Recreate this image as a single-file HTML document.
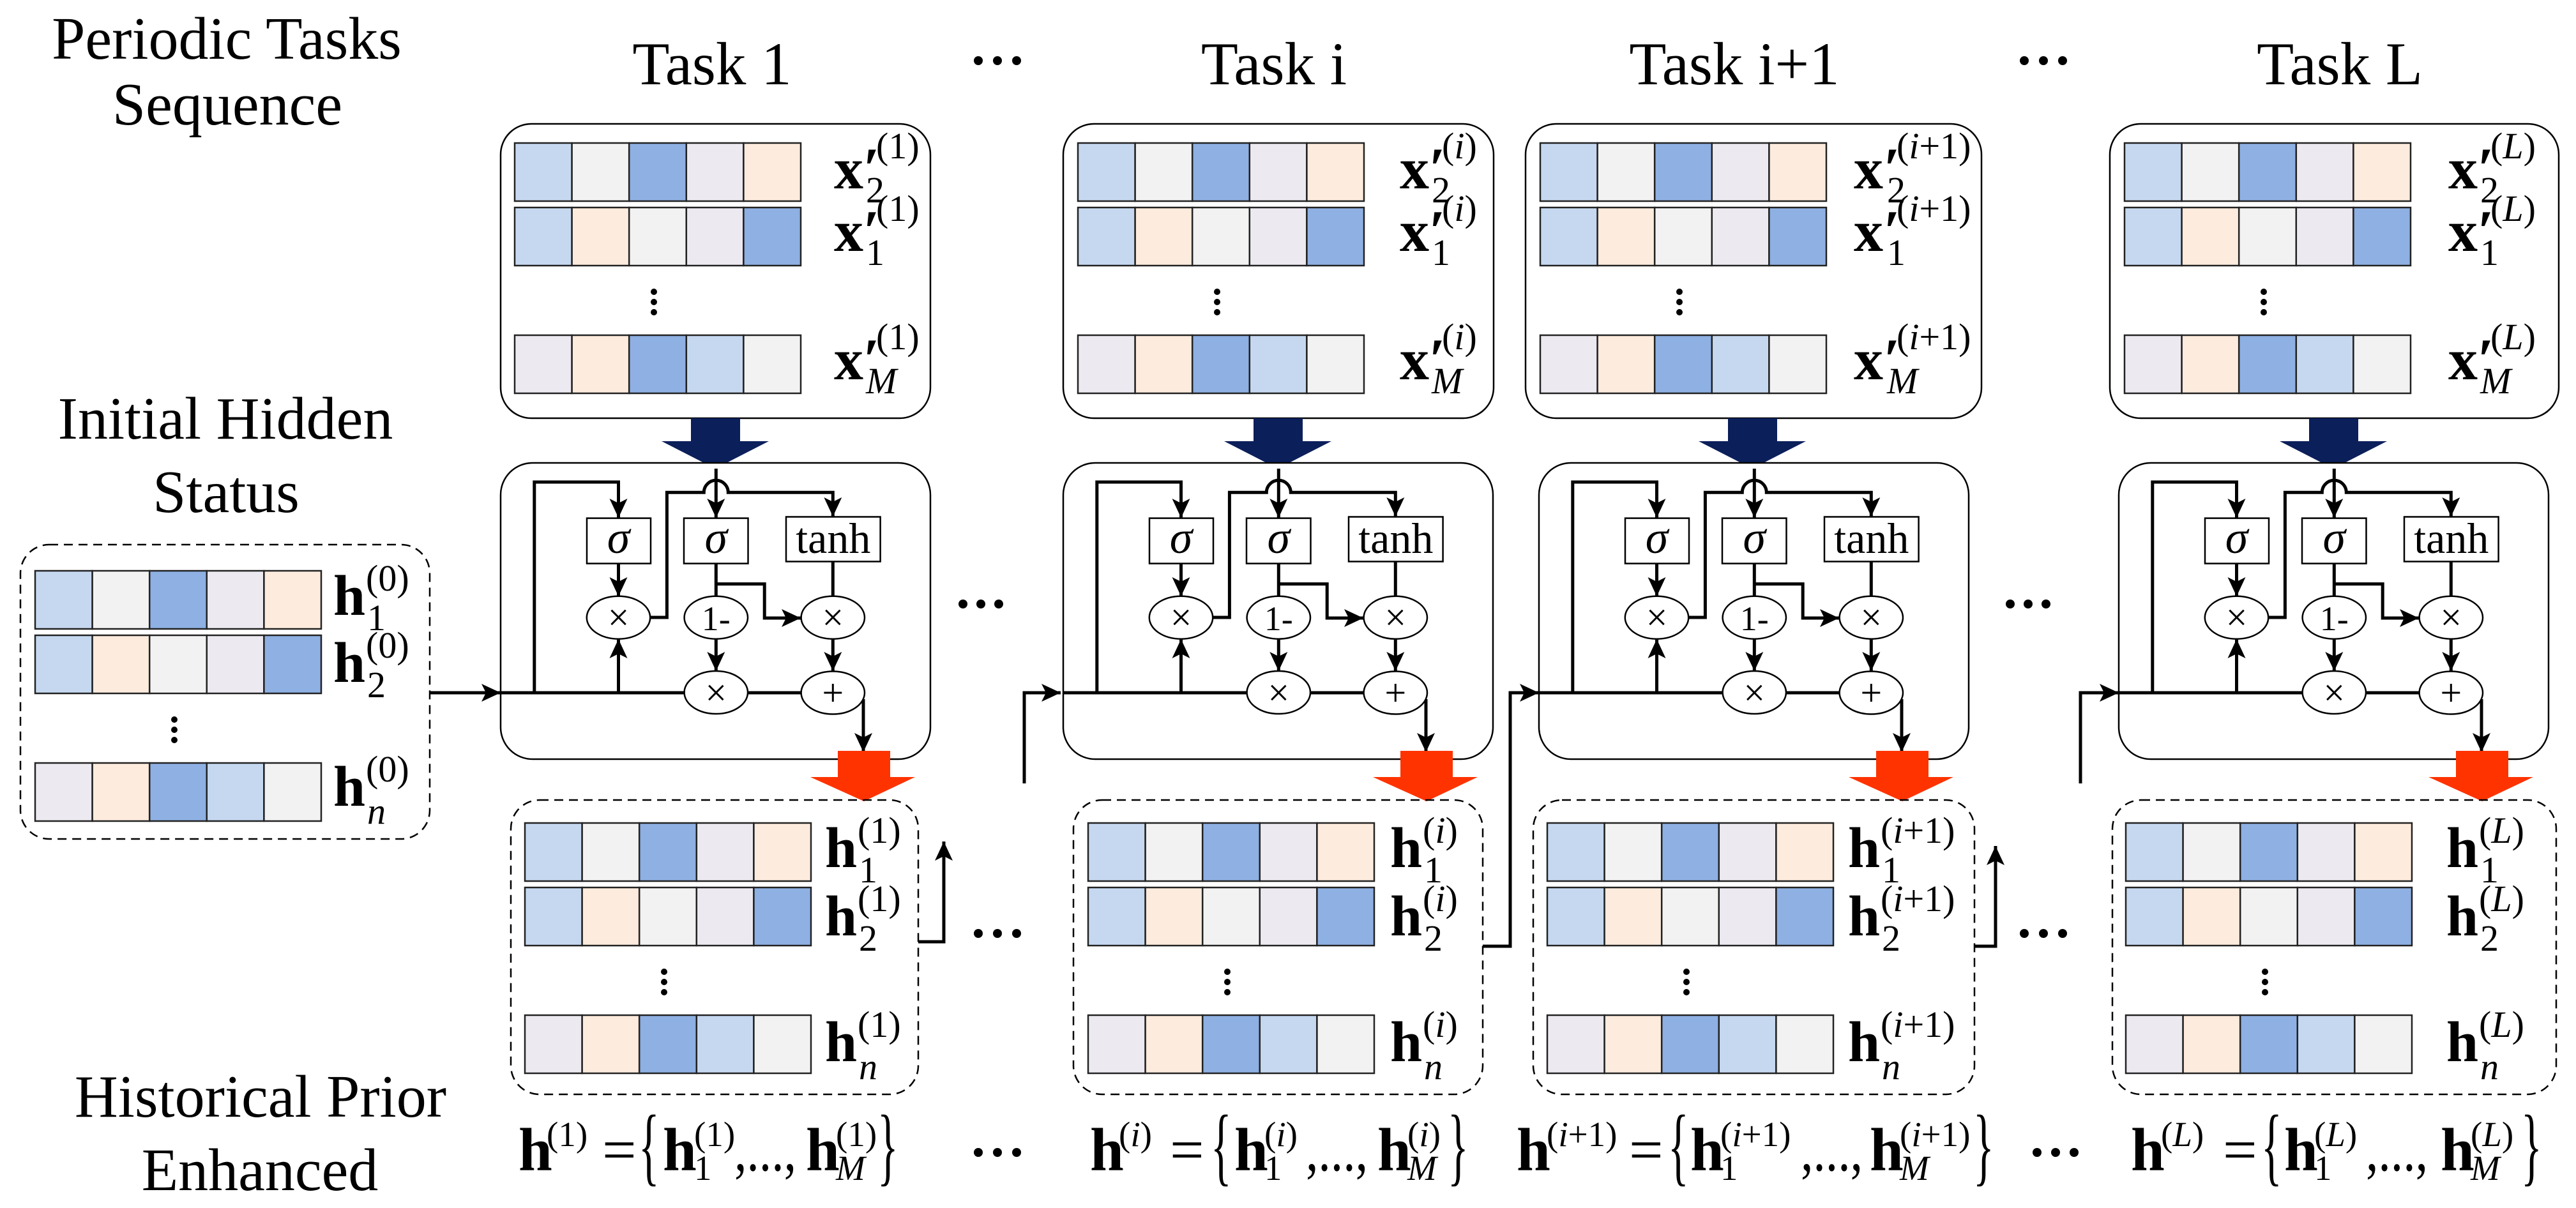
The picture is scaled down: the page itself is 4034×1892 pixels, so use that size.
<!DOCTYPE html>
<html><head><meta charset="utf-8"><style>html,body{margin:0;padding:0;background:#fff}svg{display:block}</style></head>
<body>
<svg width="4034" height="1892" viewBox="0 0 4034 1892" xmlns="http://www.w3.org/2000/svg" font-family="'Liberation Serif', serif">
<defs>
<marker id="ah" markerUnits="userSpaceOnUse" markerWidth="32" markerHeight="32" refX="30" refY="16" orient="auto"><path d="M0,2 L30,16 L0,30 L7,16 z" fill="#000"/></marker>
<g id="rowA" stroke="#222" stroke-width="2.5"><rect x="0" y="0" width="89.6" height="91" fill="#c5d8f0"/><rect x="89.6" y="0" width="89.6" height="91" fill="#f2f2f2"/><rect x="179.2" y="0" width="89.6" height="91" fill="#8eb0e3"/><rect x="268.8" y="0" width="89.6" height="91" fill="#ece9f1"/><rect x="358.4" y="0" width="89.6" height="91" fill="#fdebdd"/></g>
<g id="rowB" stroke="#222" stroke-width="2.5"><rect x="0" y="0" width="89.6" height="91" fill="#c5d8f0"/><rect x="89.6" y="0" width="89.6" height="91" fill="#fdebdd"/><rect x="179.2" y="0" width="89.6" height="91" fill="#f2f2f2"/><rect x="268.8" y="0" width="89.6" height="91" fill="#ece9f1"/><rect x="358.4" y="0" width="89.6" height="91" fill="#8eb0e3"/></g>
<g id="rowC" stroke="#222" stroke-width="2.5"><rect x="0" y="0" width="89.6" height="91" fill="#ece9f1"/><rect x="89.6" y="0" width="89.6" height="91" fill="#fdebdd"/><rect x="179.2" y="0" width="89.6" height="91" fill="#8eb0e3"/><rect x="268.8" y="0" width="89.6" height="91" fill="#c5d8f0"/><rect x="358.4" y="0" width="89.6" height="91" fill="#f2f2f2"/></g>
<g id="block"><use href="#rowA"/><use href="#rowB" y="101"/><use href="#rowC" y="301"/><circle cx="218" cy="233" r="5"/><circle cx="218" cy="249" r="5"/><circle cx="218" cy="265" r="5"/></g>
<g id="lstm">
<rect x="784" y="725" width="673" height="464" rx="50" fill="#fff" stroke="#000" stroke-width="2.5"/>
<g fill="none" stroke="#000" stroke-width="5">
<path d="M784,1085 H1072"/><path d="M1171,1085 H1255"/>
<path d="M836.8,1085 V755 H968.5 V811" marker-end="url(#ah)"/>
<path d="M968.5,1085 V1001" marker-end="url(#ah)"/>
<path d="M968.5,883 V934" marker-end="url(#ah)"/>
<path d="M1018,967 H1044.4 V771.3 H1102.3 A19,19 0 0 1 1140.3,771.3 H1304.3 V809" marker-end="url(#ah)"/>
<path d="M1121.3,734 V811" marker-end="url(#ah)"/>
<path d="M1121.3,883 V934"/>
<path d="M1121.3,914.6 H1197.2 V968 H1254" marker-end="url(#ah)"/>
<path d="M1121.3,1001 V1051" marker-end="url(#ah)"/>
<path d="M1304.3,879 V934"/>
<path d="M1304.3,1001 V1051" marker-end="url(#ah)"/>
<path d="M1352,1095 V1178" marker-end="url(#ah)"/>
</g>
<g fill="#fff" stroke="#000" stroke-width="2.5">
<rect x="919" y="811.6" width="100" height="71"/><rect x="1071" y="811.6" width="100.5" height="71"/><rect x="1231" y="809.5" width="147.6" height="70"/>
<ellipse cx="968.5" cy="967.2" rx="49.7" ry="33.5"/><ellipse cx="1121.3" cy="967.2" rx="49.7" ry="33.5"/><ellipse cx="1304.3" cy="967.2" rx="49.7" ry="33.5"/>
<ellipse cx="1121.3" cy="1084.5" rx="49.7" ry="33.5"/><ellipse cx="1304.3" cy="1085" rx="49.7" ry="33.5"/>
</g>
<g text-anchor="middle" fill="#000">
<text x="968.5" y="866" font-size="72" font-style="italic">σ</text><text x="1121.3" y="866" font-size="72" font-style="italic">σ</text><text x="1304.8" y="866" font-size="68">tanh</text>
<text x="968.5" y="987" font-size="60">×</text><text x="1121.3" y="987" font-size="54">1-</text><text x="1304.3" y="987" font-size="60">×</text>
<text x="1121.3" y="1105" font-size="60">×</text><text x="1304.3" y="1105" font-size="60">+</text>
</g>
</g>
<polygon id="blue" points="1082,655 1159,655 1159,691 1204,691 1120,734 1036,691 1082,691" fill="#0b1f5a"/>
<polygon id="red" points="1312,1176 1394,1176 1394,1217 1433,1217 1353,1255 1269,1217 1312,1217" fill="#ff3300"/>
</defs>

<g font-size="94" text-anchor="middle" fill="#000">
<text x="355" y="92">Periodic Tasks</text><text x="356" y="195">Sequence</text>
<text x="353" y="687">Initial Hidden</text><text x="354" y="802">Status</text>
<text x="408" y="1749">Historical Prior</text><text x="407" y="1864">Enhanced</text>
<text x="1115" y="132" font-size="95">Task 1</text><text x="1995" y="132" font-size="95">Task i</text>
<text x="2716" y="132" font-size="95">Task i+1</text><text x="3664" y="132" font-size="95">Task L</text>
</g>

<g fill="#000">
<circle cx="1532" cy="95" r="7"/><circle cx="1562" cy="95" r="7"/><circle cx="1592" cy="95" r="7"/>
<circle cx="3170" cy="95" r="7"/><circle cx="3200" cy="95" r="7"/><circle cx="3230" cy="95" r="7"/>
<circle cx="1508" cy="946" r="7"/><circle cx="1536" cy="946" r="7"/><circle cx="1564" cy="946" r="7"/>
<circle cx="3148" cy="946" r="7"/><circle cx="3176" cy="946" r="7"/><circle cx="3204" cy="946" r="7"/>
<circle cx="1532" cy="1462" r="7"/><circle cx="1562" cy="1462" r="7"/><circle cx="1592" cy="1462" r="7"/>
<circle cx="3170" cy="1462" r="7"/><circle cx="3200" cy="1462" r="7"/><circle cx="3230" cy="1462" r="7"/>
<circle cx="1532" cy="1805" r="7"/><circle cx="1562" cy="1805" r="7"/><circle cx="1592" cy="1805" r="7"/>
<circle cx="3190" cy="1805" r="7"/><circle cx="3219" cy="1805" r="7"/><circle cx="3248" cy="1805" r="7"/>
</g>

<rect x="32" y="853" width="641" height="461" rx="45" fill="none" stroke="#000" stroke-width="2.5" stroke-dasharray="14 9"/>
<use href="#block" x="55" y="894"/>
<g fill="#000">
<text x="522" y="963" font-size="90" font-weight="bold">h</text><text x="573" y="925" font-size="58">(0)</text><text x="575" y="987" font-size="58">1</text>
<text x="522" y="1068" font-size="90" font-weight="bold">h</text><text x="573" y="1030" font-size="58">(0)</text><text x="575" y="1092" font-size="58">2</text>
<text x="522" y="1262" font-size="90" font-weight="bold">h</text><text x="573" y="1224" font-size="58">(0)</text><text x="575" y="1290" font-size="58" font-style="italic">n</text>
</g>

<g fill="none" stroke="#000" stroke-width="5">
<path d="M673,1085 H784" marker-end="url(#ah)"/>
<path d="M1438,1475 H1478 V1318" marker-end="url(#ah)"/>
<path d="M1604,1227 V1085 H1661" marker-end="url(#ah)"/>
<path d="M2322,1482 H2365 V1085 H2410" marker-end="url(#ah)"/>
<path d="M3092,1482 H3125 V1325" marker-end="url(#ah)"/>
<path d="M3258,1227 V1085 H3318" marker-end="url(#ah)"/>
</g>

<!-- Task 1 -->
<rect x="784" y="194" width="673" height="461" rx="48" fill="none" stroke="#000" stroke-width="2.5"/>
<use href="#block" x="806" y="224"/>
<use href="#blue"/>
<use href="#lstm"/>
<use href="#red"/>
<rect x="800" y="1253" width="638" height="461" rx="45" fill="none" stroke="#000" stroke-width="2.5" stroke-dasharray="14 9"/>
<use href="#block" x="822" y="1289"/>
<g fill="#000">
<text x="1306" y="295" font-size="92" font-weight="bold">x</text><text x="1352" y="295" font-size="92" font-weight="bold">′</text><text x="1372" y="248" font-size="58">(1)</text><text x="1356" y="317" font-size="58">2</text>
<text x="1306" y="393" font-size="92" font-weight="bold">x</text><text x="1352" y="393" font-size="92" font-weight="bold">′</text><text x="1372" y="346" font-size="58">(1)</text><text x="1356" y="415" font-size="58">1</text>
<text x="1306" y="594" font-size="92" font-weight="bold">x</text><text x="1352" y="594" font-size="92" font-weight="bold">′</text><text x="1372" y="547" font-size="58">(1)</text><text x="1356" y="616" font-size="58" font-style="italic">M</text>
<text x="1292" y="1358" font-size="90" font-weight="bold">h</text><text x="1343" y="1320" font-size="58">(1)</text><text x="1345" y="1382" font-size="58">1</text>
<text x="1292" y="1465" font-size="90" font-weight="bold">h</text><text x="1343" y="1427" font-size="58">(1)</text><text x="1345" y="1489" font-size="58">2</text>
<text x="1292" y="1662" font-size="90" font-weight="bold">h</text><text x="1343" y="1624" font-size="58">(1)</text><text x="1345" y="1690" font-size="58" font-style="italic">n</text>
<text x="812" y="1833" font-size="95" font-weight="bold">h</text><text x="856" y="1795" font-size="55">(1)</text>
<text x="943" y="1833" font-size="95">=</text><text transform="translate(1000,1840) scale(0.85,1.7)" font-size="80">{</text>
<text x="1038" y="1833" font-size="95" font-weight="bold">h</text><text x="1087" y="1795" font-size="55">(1)</text><text x="1087" y="1848" font-size="55">1</text>
<text x="1150" y="1833" font-size="95" textLength="97" lengthAdjust="spacingAndGlyphs">,...,</text>
<text x="1262" y="1833" font-size="95" font-weight="bold">h</text><text x="1309" y="1795" font-size="55">(1)</text><text x="1309" y="1848" font-size="55" font-style="italic">M</text>
<text transform="translate(1374,1840) scale(0.85,1.7)" font-size="80">}</text>
</g>

<!-- Task i -->
<rect x="1665" y="194" width="674" height="461" rx="48" fill="none" stroke="#000" stroke-width="2.5"/>
<use href="#block" x="1688" y="224"/>
<use href="#blue" x="881"/>
<use href="#lstm" x="881"/>
<use href="#red" x="881"/>
<rect x="1681" y="1253" width="641" height="461" rx="45" fill="none" stroke="#000" stroke-width="2.5" stroke-dasharray="14 9"/>
<use href="#block" x="1704" y="1289"/>
<g fill="#000">
<text x="2192" y="295" font-size="92" font-weight="bold">x</text><text x="2238" y="295" font-size="92" font-weight="bold">′</text><text x="2258" y="248" font-size="58">(<tspan font-style="italic">i</tspan>)</text><text x="2242" y="317" font-size="58">2</text>
<text x="2192" y="393" font-size="92" font-weight="bold">x</text><text x="2238" y="393" font-size="92" font-weight="bold">′</text><text x="2258" y="346" font-size="58">(<tspan font-style="italic">i</tspan>)</text><text x="2242" y="415" font-size="58">1</text>
<text x="2192" y="594" font-size="92" font-weight="bold">x</text><text x="2238" y="594" font-size="92" font-weight="bold">′</text><text x="2258" y="547" font-size="58">(<tspan font-style="italic">i</tspan>)</text><text x="2242" y="616" font-size="58" font-style="italic">M</text>
<text x="2177" y="1358" font-size="90" font-weight="bold">h</text><text x="2228" y="1320" font-size="58">(<tspan font-style="italic">i</tspan>)</text><text x="2230" y="1382" font-size="58">1</text>
<text x="2177" y="1465" font-size="90" font-weight="bold">h</text><text x="2228" y="1427" font-size="58">(<tspan font-style="italic">i</tspan>)</text><text x="2230" y="1489" font-size="58">2</text>
<text x="2177" y="1662" font-size="90" font-weight="bold">h</text><text x="2228" y="1624" font-size="58">(<tspan font-style="italic">i</tspan>)</text><text x="2230" y="1690" font-size="58" font-style="italic">n</text>
<text x="1707" y="1833" font-size="95" font-weight="bold">h</text><text x="1752" y="1795" font-size="55">(<tspan font-style="italic">i</tspan>)</text>
<text x="1832" y="1833" font-size="95">=</text><text transform="translate(1896,1840) scale(0.85,1.7)" font-size="80">{</text>
<text x="1933" y="1833" font-size="95" font-weight="bold">h</text><text x="1980" y="1795" font-size="55">(<tspan font-style="italic">i</tspan>)</text><text x="1980" y="1848" font-size="55">1</text>
<text x="2045" y="1833" font-size="95" textLength="97" lengthAdjust="spacingAndGlyphs">,...,</text>
<text x="2157" y="1833" font-size="95" font-weight="bold">h</text><text x="2204" y="1795" font-size="55">(<tspan font-style="italic">i</tspan>)</text><text x="2204" y="1848" font-size="55" font-style="italic">M</text>
<text transform="translate(2267,1840) scale(0.85,1.7)" font-size="80">}</text>
</g>

<!-- Task i+1 -->
<rect x="2389" y="194" width="714" height="461" rx="48" fill="none" stroke="#000" stroke-width="2.5"/>
<use href="#block" x="2412" y="224"/>
<use href="#blue" x="1624"/>
<use href="#lstm" x="1626"/>
<use href="#red" x="1626"/>
<rect x="2401" y="1253" width="691" height="461" rx="45" fill="none" stroke="#000" stroke-width="2.5" stroke-dasharray="14 9"/>
<use href="#block" x="2423" y="1289"/>
<g fill="#000">
<text x="2903" y="295" font-size="92" font-weight="bold">x</text><text x="2950" y="295" font-size="92" font-weight="bold">′</text><text x="2970" y="248" font-size="58">(<tspan font-style="italic">i</tspan>+1)</text><text x="2955" y="317" font-size="58">2</text>
<text x="2903" y="393" font-size="92" font-weight="bold">x</text><text x="2950" y="393" font-size="92" font-weight="bold">′</text><text x="2970" y="346" font-size="58">(<tspan font-style="italic">i</tspan>+1)</text><text x="2955" y="415" font-size="58">1</text>
<text x="2903" y="594" font-size="92" font-weight="bold">x</text><text x="2950" y="594" font-size="92" font-weight="bold">′</text><text x="2970" y="547" font-size="58">(<tspan font-style="italic">i</tspan>+1)</text><text x="2955" y="616" font-size="58" font-style="italic">M</text>
<text x="2894" y="1358" font-size="90" font-weight="bold">h</text><text x="2945" y="1320" font-size="58">(<tspan font-style="italic">i</tspan>+1)</text><text x="2947" y="1382" font-size="58">1</text>
<text x="2894" y="1465" font-size="90" font-weight="bold">h</text><text x="2945" y="1427" font-size="58">(<tspan font-style="italic">i</tspan>+1)</text><text x="2947" y="1489" font-size="58">2</text>
<text x="2894" y="1662" font-size="90" font-weight="bold">h</text><text x="2945" y="1624" font-size="58">(<tspan font-style="italic">i</tspan>+1)</text><text x="2947" y="1690" font-size="58" font-style="italic">n</text>
<text x="2375" y="1833" font-size="95" font-weight="bold">h</text><text x="2422" y="1795" font-size="55">(<tspan font-style="italic">i</tspan>+1)</text>
<text x="2551" y="1833" font-size="95">=</text><text transform="translate(2612,1840) scale(0.85,1.7)" font-size="80">{</text>
<text x="2647" y="1833" font-size="95" font-weight="bold">h</text><text x="2694" y="1795" font-size="55">(<tspan font-style="italic">i</tspan>+1)</text><text x="2694" y="1848" font-size="55">1</text>
<text x="2820" y="1833" font-size="95" textLength="97" lengthAdjust="spacingAndGlyphs">,...,</text>
<text x="2928" y="1833" font-size="95" font-weight="bold">h</text><text x="2975" y="1795" font-size="55">(<tspan font-style="italic">i</tspan>+1)</text><text x="2975" y="1848" font-size="55" font-style="italic">M</text>
<text transform="translate(3090,1840) scale(0.85,1.7)" font-size="80">}</text>
</g>

<!-- Task L -->
<rect x="3304" y="194" width="703" height="461" rx="48" fill="none" stroke="#000" stroke-width="2.5"/>
<use href="#block" x="3327" y="224"/>
<use href="#blue" x="2534"/>
<use href="#lstm" x="2534"/>
<use href="#red" x="2534"/>
<rect x="3308" y="1253" width="695" height="461" rx="45" fill="none" stroke="#000" stroke-width="2.5" stroke-dasharray="14 9"/>
<use href="#block" x="3329" y="1289"/>
<g fill="#000">
<text x="3834" y="295" font-size="92" font-weight="bold">x</text><text x="3880" y="295" font-size="92" font-weight="bold">′</text><text x="3900" y="248" font-size="58">(<tspan font-style="italic">L</tspan>)</text><text x="3884" y="317" font-size="58">2</text>
<text x="3834" y="393" font-size="92" font-weight="bold">x</text><text x="3880" y="393" font-size="92" font-weight="bold">′</text><text x="3900" y="346" font-size="58">(<tspan font-style="italic">L</tspan>)</text><text x="3884" y="415" font-size="58">1</text>
<text x="3834" y="594" font-size="92" font-weight="bold">x</text><text x="3880" y="594" font-size="92" font-weight="bold">′</text><text x="3900" y="547" font-size="58">(<tspan font-style="italic">L</tspan>)</text><text x="3884" y="616" font-size="58" font-style="italic">M</text>
<text x="3831" y="1358" font-size="90" font-weight="bold">h</text><text x="3882" y="1320" font-size="58">(<tspan font-style="italic">L</tspan>)</text><text x="3884" y="1382" font-size="58">1</text>
<text x="3831" y="1465" font-size="90" font-weight="bold">h</text><text x="3882" y="1427" font-size="58">(<tspan font-style="italic">L</tspan>)</text><text x="3884" y="1489" font-size="58">2</text>
<text x="3831" y="1662" font-size="90" font-weight="bold">h</text><text x="3882" y="1624" font-size="58">(<tspan font-style="italic">L</tspan>)</text><text x="3884" y="1690" font-size="58" font-style="italic">n</text>
<text x="3337" y="1833" font-size="95" font-weight="bold">h</text><text x="3384" y="1795" font-size="55">(<tspan font-style="italic">L</tspan>)</text>
<text x="3481" y="1833" font-size="95">=</text><text transform="translate(3541,1840) scale(0.85,1.7)" font-size="80">{</text>
<text x="3577" y="1833" font-size="95" font-weight="bold">h</text><text x="3624" y="1795" font-size="55">(<tspan font-style="italic">L</tspan>)</text><text x="3624" y="1848" font-size="55">1</text>
<text x="3705" y="1833" font-size="95" textLength="97" lengthAdjust="spacingAndGlyphs">,...,</text>
<text x="3822" y="1833" font-size="95" font-weight="bold">h</text><text x="3869" y="1795" font-size="55">(<tspan font-style="italic">L</tspan>)</text><text x="3869" y="1848" font-size="55" font-style="italic">M</text>
<text transform="translate(3948,1840) scale(0.85,1.7)" font-size="80">}</text>
</g>
</svg>
</body></html>
